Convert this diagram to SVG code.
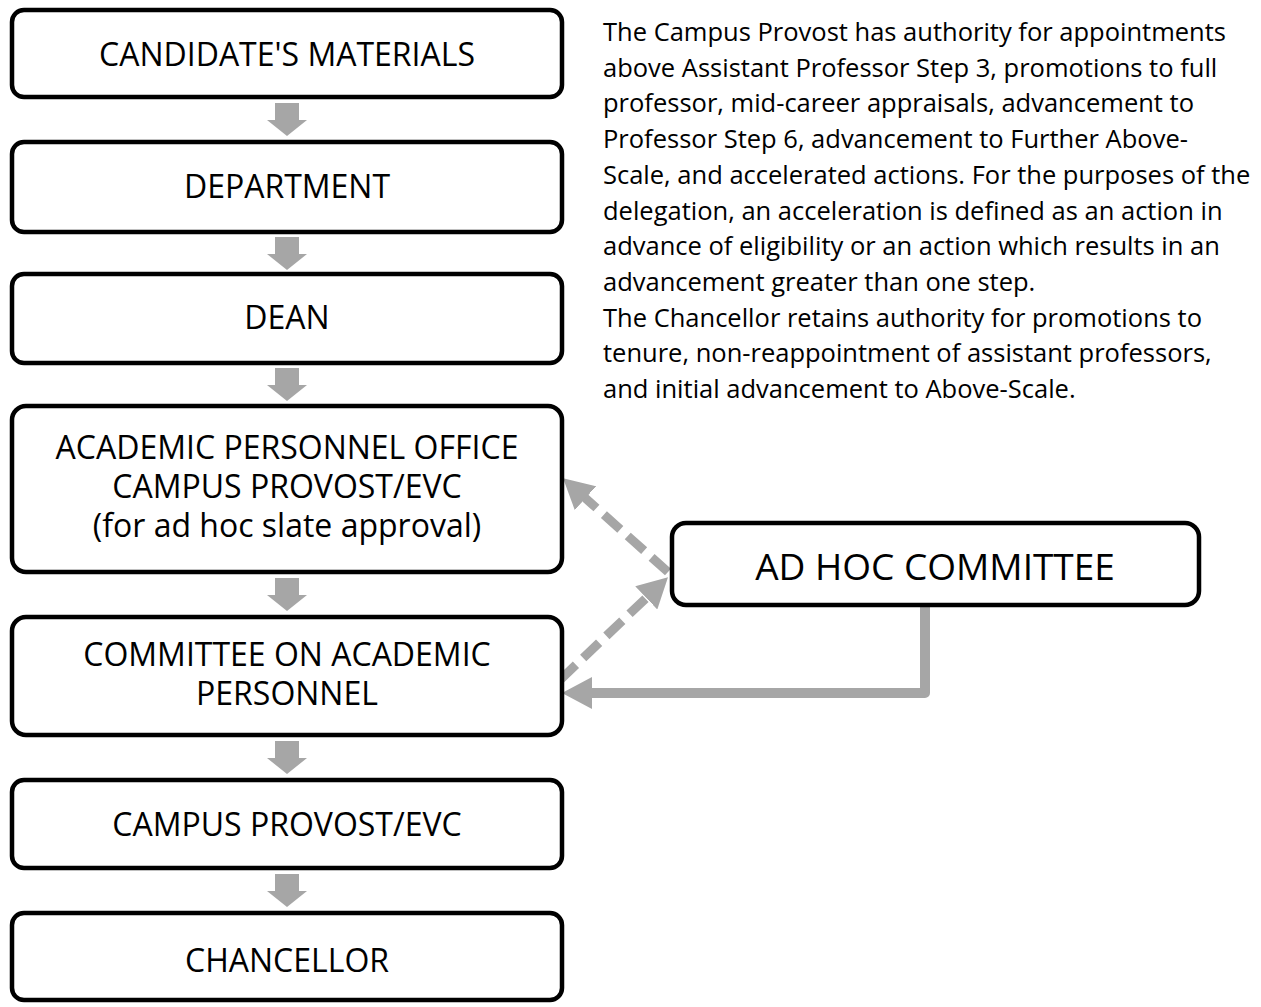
<svg xmlns="http://www.w3.org/2000/svg" width="1261" height="1007" viewBox="0 0 1261 1007">
<defs>
<style>
.box{fill:#fff;stroke:#000;stroke-width:4.5}
.lbl{font-family:"Open Sans","Liberation Sans",sans-serif;font-size:32px;fill:#000;text-anchor:middle}
.big{font-size:37px}
.para{font-family:"Open Sans","Liberation Sans",sans-serif;font-size:25.5px;fill:#000}
.flow{fill:#A6A6A6}
.dash{fill:none;stroke:#A6A6A6;stroke-width:9;stroke-dasharray:22 10}
.solid{fill:none;stroke:#A6A6A6;stroke-width:10;stroke-linejoin:round}
</style>
<path id="down" d="M-12,0 H12 V17 H20 L0,33 L-20,17 H-12 Z"/>
<marker id="head" viewBox="0 0 30 32" refX="10" refY="16" markerWidth="30" markerHeight="32" markerUnits="userSpaceOnUse" orient="auto">
<path d="M0,0 L30,16 L0,32 Z" fill="#A6A6A6"/>
</marker>
</defs>
<rect width="1261" height="1007" fill="#fff"/>
<g id="connectors">
<use href="#down" class="flow" x="287" y="103"/>
<use href="#down" class="flow" x="287" y="237"/>
<use href="#down" class="flow" x="287" y="368"/>
<use href="#down" class="flow" x="287" y="578"/>
<use href="#down" class="flow" x="287" y="741"/>
<use href="#down" class="flow" x="287" y="874"/>
<path class="dash" d="M668,572 L578,491.5" marker-end="url(#head)"/>
<path class="dash" d="M560,680 L653.5,591" marker-end="url(#head)"/>
<path class="solid" d="M925,605 V693 H582" marker-end="url(#head)"/>
</g>
<g id="n1"><rect class="box" x="12" y="10" width="550" height="87" rx="12"/><text class="lbl" x="287" y="66">CANDIDATE'S MATERIALS</text></g>
<g id="n2"><rect class="box" x="12" y="142" width="550" height="90" rx="12"/><text class="lbl" x="287" y="198">DEPARTMENT</text></g>
<g id="n3"><rect class="box" x="12" y="274" width="550" height="89" rx="12"/><text class="lbl" x="287" y="329">DEAN</text></g>
<g id="n4"><rect class="box" x="12" y="406" width="550" height="166" rx="14"/>
<text class="lbl" x="287" y="459">ACADEMIC PERSONNEL OFFICE</text>
<text class="lbl" x="287" y="498">CAMPUS PROVOST/EVC</text>
<text class="lbl" x="287" y="537">(for ad hoc slate approval)</text></g>
<g id="n5"><rect class="box" x="12" y="617" width="550" height="118" rx="14"/>
<text class="lbl" x="287" y="666">COMMITTEE ON ACADEMIC</text>
<text class="lbl" x="287" y="705">PERSONNEL</text></g>
<g id="n6"><rect class="box" x="12" y="780" width="550" height="88" rx="12"/><text class="lbl" x="287" y="836">CAMPUS PROVOST/EVC</text></g>
<g id="n7"><rect class="box" x="12" y="913" width="550" height="87" rx="12"/><text class="lbl" x="287" y="972">CHANCELLOR</text></g>
<g id="n8"><rect class="box" x="672" y="523" width="527" height="82" rx="14"/><text class="lbl big" x="935" y="580">AD HOC COMMITTEE</text></g>
<g id="note">
<text class="para" x="603" y="41">The Campus Provost has authority for appointments</text>
<text class="para" x="603" y="76.7">above Assistant Professor Step 3, promotions to full</text>
<text class="para" x="603" y="112.4">professor, mid-career appraisals, advancement to</text>
<text class="para" x="603" y="148.1">Professor Step 6, advancement to Further Above-</text>
<text class="para" x="603" y="183.8">Scale, and accelerated actions. For the purposes of the</text>
<text class="para" x="603" y="219.5">delegation, an acceleration is defined as an action in</text>
<text class="para" x="603" y="255.2">advance of eligibility or an action which results in an</text>
<text class="para" x="603" y="290.9">advancement greater than one step.</text>
<text class="para" x="603" y="326.6">The Chancellor retains authority for promotions to</text>
<text class="para" x="603" y="362.3">tenure, non-reappointment of assistant professors,</text>
<text class="para" x="603" y="398">and initial advancement to Above-Scale.</text>
</g>
</svg>
